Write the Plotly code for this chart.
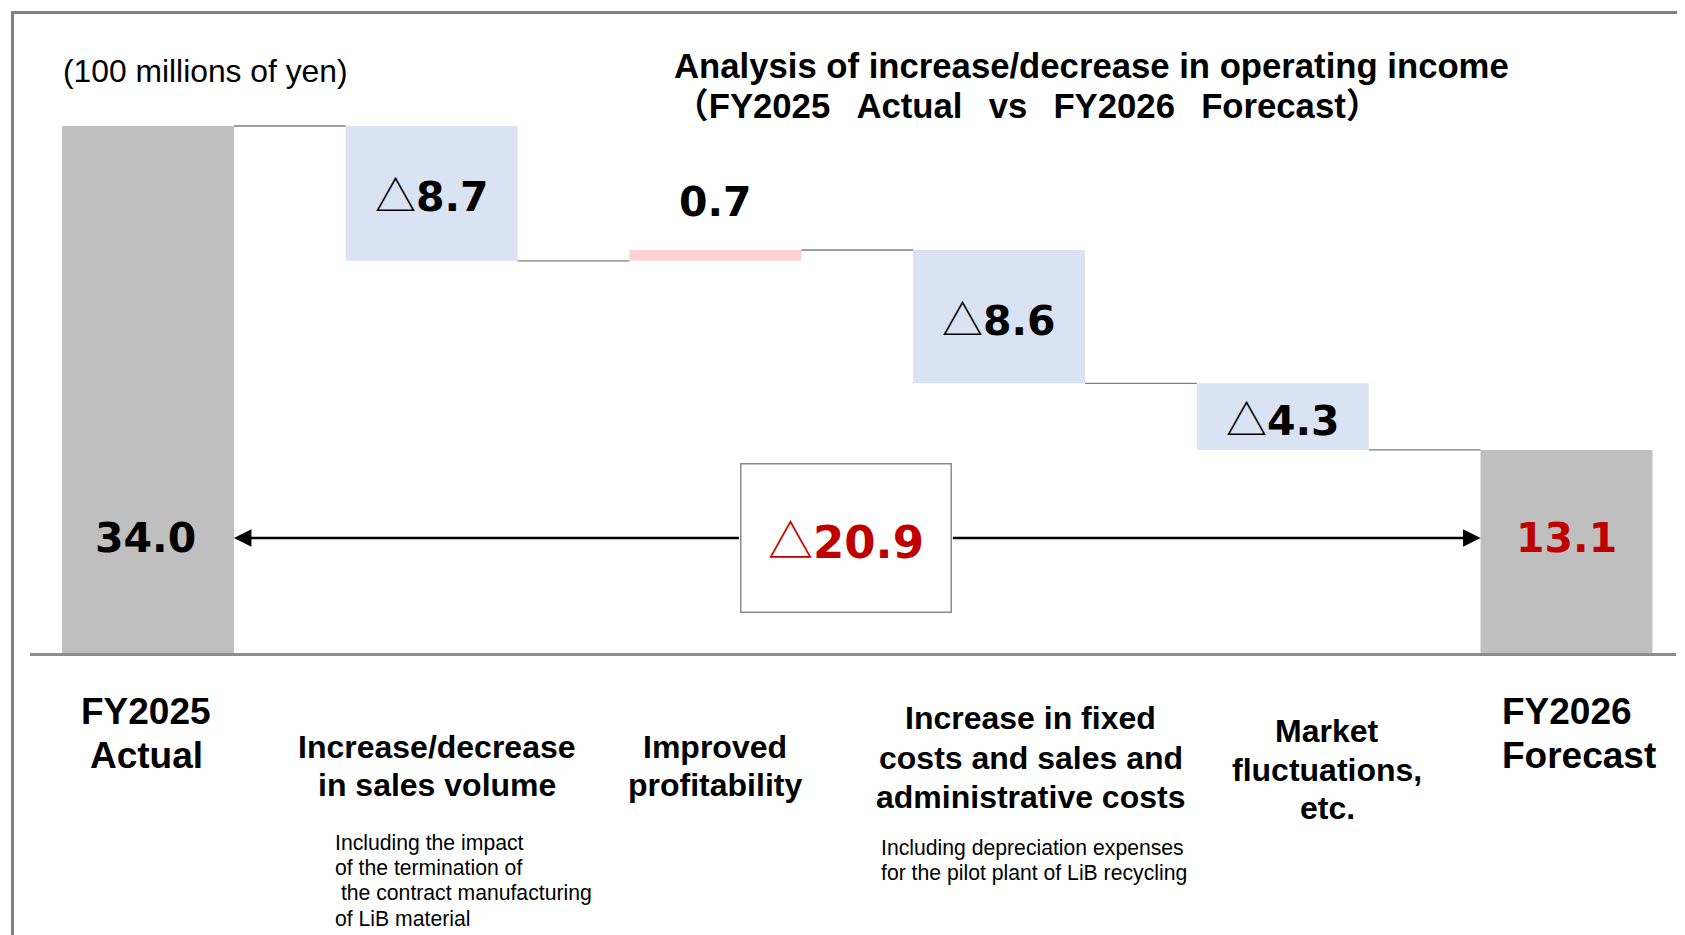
import plotly.graph_objects as go

# ---------------- data ----------------
start_value = 34.0
deltas = [-8.7, 0.7, -8.6, -4.3]
end_value = 13.1
total_change = -20.9

category_lines = [
    ["FY2025", "Actual"],
    ["Increase/decrease", "in sales volume"],
    ["Improved", "profitability"],
    ["Increase in fixed", "costs and sales and", "administrative costs"],
    ["Market", "fluctuations,", "etc."],
    ["FY2026", "Forecast"],
]
note_sales = ["Including the impact", "of the termination of",
              "\u00a0the contract manufacturing", "of LiB material"]
note_fixed = ["Including depreciation expenses",
              "for the pilot plant of LiB recycling"]
GAP = "\u00a0\u00a0\u2009"
title_lines = ["Analysis of increase/decrease in operating income",
               "（FY2025" + GAP + "Actual" + GAP + "vs" + GAP + "FY2026" + GAP + "Forecast）"]
unit_label = "(100 millions of yen)"

# ---------------- layout constants ----------------
PAGE_W, PAGE_H = 1685, 935
OFF = 8                          # page body margin
W, H = PAGE_W - OFF, PAGE_H - OFF
GRAY, BLUE, PINK, RED = "#BFBFBF", "#DAE3F3", "#FFD1D1", "#C00000"
BW = 0.606                       # bar width (category units)
X0_PX, STEP_PX = 148.0, 283.7    # page-pixel centre of first category, spacing
XL_PX, XR_PX = 30, 1676          # plot area horizontal extent (page px)
YT_PX, YB_PX = 100, 653          # plot area vertical extent (page px)
PX_PER_UNIT = 15.5
x_range = [(XL_PX - X0_PX) / STEP_PX, (XR_PX - X0_PX) / STEP_PX]
y_range = [0, (YB_PX - YT_PX) / PX_PER_UNIT]
ARROW_LEVEL = 7.42

VAL_FONT = "DejaVu Sans"
TRI = '<span style="font-family:\'Noto Sans CJK JP\'">△</span>'
LAB_FONT = "Liberation Sans, Arial, sans-serif"


def fmt(v):
    return (TRI if v < 0 else "") + "<b>%.1f</b>" % abs(v)


def py(px):
    return 1 - (px - OFF) / H


def pxx(px):
    return (px - OFF) / W


# ---------------- waterfall geometry from data ----------------
levels = [start_value]
for d in deltas:
    levels.append(round(levels[-1] + d, 1))

fig = go.Figure()

# totals
fig.add_trace(go.Bar(x=[0, len(deltas) + 1], y=[start_value, end_value], base=[0, 0],
                     width=BW, marker=dict(color=GRAY, line=dict(width=0)),
                     hoverinfo="skip"))
# changes
for i, d in enumerate(deltas):
    lo = min(levels[i], levels[i + 1])
    fig.add_trace(go.Bar(x=[i + 1], y=[abs(d)], base=[lo], width=BW,
                         marker=dict(color=BLUE if d < 0 else PINK, line=dict(width=0)),
                         hoverinfo="skip"))

shapes = []
# connectors
for i, lv in enumerate(levels):
    shapes.append(dict(type="line", xref="x", yref="y", x0=i + BW / 2, x1=i + 1 - BW / 2,
                       y0=lv, y1=lv, line=dict(color="#7F7F7F", width=1.3)))
# outer frame
shapes.append(dict(type="rect", xref="paper", yref="paper", x0=pxx(12.5), x1=1.02,
                   y0=-0.02, y1=py(12.5), line=dict(color="#808080", width=3),
                   fillcolor="rgba(0,0,0,0)"))

ann = []
# value labels of changes
for i, d in enumerate(deltas):
    xi = i + 1
    if d < 0:
        ann.append(dict(x=xi, y=(levels[i] + levels[i + 1]) / 2, xref="x", yref="y",
                        text=fmt(d), showarrow=False,
                        font=dict(family=VAL_FONT, size=41, color="black")))
    else:
        ann.append(dict(x=xi, y=max(levels[i], levels[i + 1]), xref="x", yref="y",
                        text=fmt(d), showarrow=False, yanchor="bottom", yshift=22,
                        font=dict(family=VAL_FONT, size=41, color="black")))
# totals labels
ann.append(dict(x=0, y=ARROW_LEVEL, xref="x", yref="y", text=fmt(start_value),
                showarrow=False, xshift=-3,
                font=dict(family=VAL_FONT, size=41, color="black")))
ann.append(dict(x=len(deltas) + 1, y=ARROW_LEVEL, xref="x", yref="y", text=fmt(end_value),
                showarrow=False, font=dict(family=VAL_FONT, size=41, color=RED)))

# arrows and total change box
box_cx = 2.46
box_w, box_h = 205, 143
half_w_units = (box_w / 2 + 3) / STEP_PX
ann.append(dict(x=0 + BW / 2, y=ARROW_LEVEL, ax=box_cx - half_w_units, ay=ARROW_LEVEL,
                xref="x", yref="y", axref="x", ayref="y", text="", showarrow=True,
                arrowhead=2, arrowsize=1.4, arrowwidth=2.5, arrowcolor="black", standoff=0))
ann.append(dict(x=len(deltas) + 1 - BW / 2, y=ARROW_LEVEL, ax=box_cx + half_w_units,
                ay=ARROW_LEVEL, xref="x", yref="y", axref="x", ayref="y", text="",
                showarrow=True, arrowhead=2, arrowsize=1.4, arrowwidth=2.5,
                arrowcolor="black", standoff=0))
ann.append(dict(x=box_cx, y=ARROW_LEVEL, xref="x", yref="y", text=fmt(total_change),
                showarrow=False, width=box_w, height=box_h, bgcolor="white",
                bordercolor="#8C8C8C", borderwidth=1.5, borderpad=2, valign="middle",
                font=dict(family=VAL_FONT, size=45, color=RED)))

# category labels: (x shift px, first line centre px, spacing, size, anchor)
cat_layout = [(-2, 711.5, 44, 37, "center"), (5, 747, 38, 32, "center"),
              (0, 747, 38, 32, "center"), (31.5, 718, 39.5, 32, "center"),
              (44.5, 731, 38.5, 32, "center"), (-66.5, 711.5, 44, 37, "left")]
for i, lines in enumerate(category_lines):
    xs, y0, sp, sz, anc = cat_layout[i]
    for k, line in enumerate(lines):
        ann.append(dict(x=i, y=py(y0 + k * sp), xref="x", yref="paper", text="<b>%s</b>" % line,
                        showarrow=False, xanchor=anc, xshift=xs, yanchor="middle",
                        font=dict(family=LAB_FONT, size=sz, color="black")))

# notes
for lines, cat, xs, y0, sp in [(note_sales, 1, -99, 842.5, 25.3),
                               (note_fixed, 3, -120, 847.7, 25)]:
    for k, line in enumerate(lines):
        ann.append(dict(x=cat, y=py(y0 + k * sp), xref="x", yref="paper", text=line,
                        showarrow=False, xanchor="left", xshift=xs, yanchor="middle",
                        font=dict(family=LAB_FONT, size=21.2, color="black")))

# title and unit
for k, line in enumerate(title_lines):
    ann.append(dict(x=pxx(672), y=py(66.5 + k * 39.5), xref="paper", yref="paper",
                    text="<b>%s</b>" % line, showarrow=False, xanchor="left", yanchor="middle",
                    font=dict(family="Liberation Sans, 'Noto Sans CJK JP', sans-serif",
                              size=34.7, color="black")))
ann.append(dict(x=pxx(61), y=py(71), xref="paper", yref="paper", text=unit_label,
                showarrow=False, xanchor="left", yanchor="middle",
                font=dict(family=LAB_FONT, size=31.8, color="black")))

fig.update_layout(
    width=W, height=H, margin=dict(l=0, r=0, t=0, b=0),
    paper_bgcolor="white", plot_bgcolor="white", showlegend=False,
    barmode="overlay",
    xaxis=dict(domain=[pxx(XL_PX), pxx(XR_PX)], range=x_range, showgrid=False,
               zeroline=False, showticklabels=False, ticks="", showline=True,
               linecolor="#8C8C8C", linewidth=3, fixedrange=True),
    yaxis=dict(domain=[py(YB_PX), py(YT_PX)], range=y_range, visible=False,
               fixedrange=True),
    shapes=shapes, annotations=ann,
)

fig.write_html("out.html")
